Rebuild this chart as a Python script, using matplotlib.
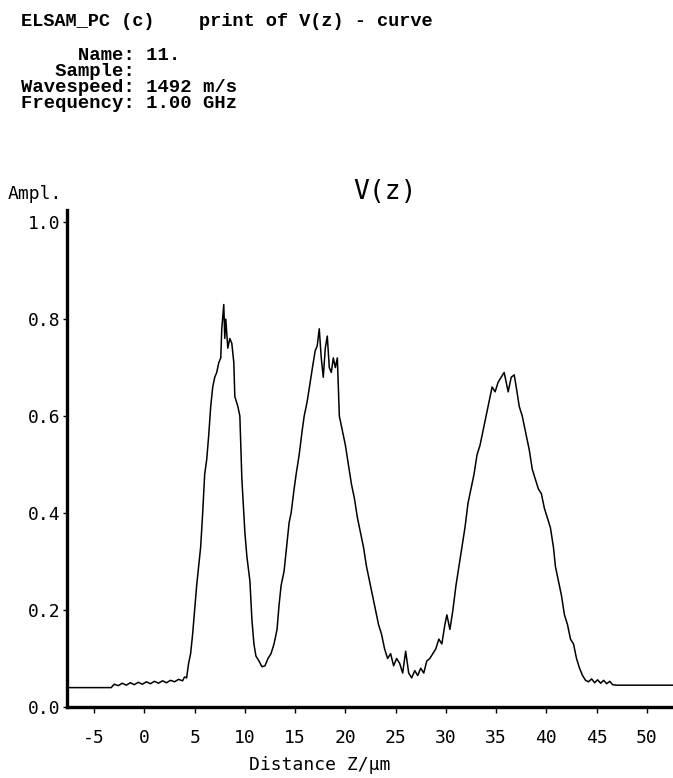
import matplotlib
matplotlib.use("Agg")
import matplotlib.pyplot as plt

# ------------------------------
# Values
# ------------------------------
z_um = [-7.7, -3.3, -3.0, -2.6, -2.2, -1.8, -1.4, -1.0, -0.6, -0.2, 0.2, 0.6,
        1.0, 1.4, 1.8, 2.2, 2.6, 3.0, 3.4, 3.8, 4.0, 4.2, 4.4, 4.6, 4.8, 5.0,
        5.2, 5.4, 5.6, 5.8, 6.0, 6.2, 6.4, 6.6, 6.8, 7.0, 7.2, 7.4, 7.6, 7.7,
        7.9, 8.0, 8.1, 8.3, 8.5, 8.7, 8.9, 9.0, 9.3, 9.5, 9.7, 10.0, 10.2,
        10.5, 10.7, 10.9, 11.1, 11.4, 11.7, 12.0, 12.3, 12.6, 12.9, 13.2,
        13.4, 13.6, 13.9, 14.2, 14.4, 14.6, 14.9, 15.1, 15.4, 15.7, 15.9,
        16.2, 16.5, 16.8, 17.0, 17.2, 17.4, 17.6, 17.8, 18.0, 18.2, 18.4,
        18.6, 18.8, 19.0, 19.2, 19.4, 19.7, 20.0, 20.3, 20.6, 20.9, 21.2,
        21.5, 21.8, 22.1, 22.4, 22.7, 23.0, 23.3, 23.6, 23.9, 24.2, 24.5,
        24.8, 25.1, 25.4, 25.7, 26.0, 26.3, 26.6, 26.9, 27.2, 27.5, 27.8,
        28.1, 28.4, 28.7, 29.0, 29.3, 29.6, 29.9, 30.1, 30.4, 30.7, 31.0,
        31.3, 31.6, 31.9, 32.2, 32.5, 32.8, 33.1, 33.4, 33.7, 34.0, 34.3,
        34.6, 34.9, 35.2, 35.5, 35.8, 36.0, 36.2, 36.5, 36.8, 37.0, 37.3,
        37.6, 37.9, 38.1, 38.3, 38.6, 38.9, 39.2, 39.5, 39.8, 40.1, 40.4,
        40.7, 40.9, 41.2, 41.5, 41.8, 42.1, 42.4, 42.7, 43.0, 43.3, 43.6,
        43.9, 44.2, 44.5, 44.8, 45.1, 45.4, 45.7, 46.0, 46.3, 46.6, 47.0, 53.0]

ampl = [0.040, 0.040, 0.047, 0.044, 0.049, 0.045, 0.050, 0.046, 0.051, 0.047,
        0.052, 0.048, 0.053, 0.049, 0.054, 0.050, 0.055, 0.052, 0.057, 0.054,
        0.062, 0.060, 0.090, 0.110, 0.150, 0.200, 0.250, 0.290, 0.330, 0.400,
        0.480, 0.510, 0.560, 0.620, 0.660, 0.680, 0.690, 0.710, 0.720, 0.780,
        0.830, 0.760, 0.800, 0.740, 0.760, 0.750, 0.710, 0.640, 0.620, 0.600,
        0.470, 0.360, 0.310, 0.260, 0.180, 0.130, 0.105, 0.095, 0.083, 0.085,
        0.100, 0.110, 0.130, 0.160, 0.210, 0.250, 0.280, 0.340, 0.380, 0.400,
        0.450, 0.480, 0.520, 0.570, 0.600, 0.630, 0.670, 0.710, 0.735, 0.745,
        0.780, 0.720, 0.680, 0.740, 0.765, 0.700, 0.690, 0.720, 0.700, 0.720,
        0.600, 0.570, 0.540, 0.500, 0.460, 0.430, 0.390, 0.360, 0.330, 0.290,
        0.260, 0.230, 0.200, 0.170, 0.150, 0.120, 0.100, 0.110, 0.085, 0.100,
        0.090, 0.070, 0.115, 0.070, 0.060, 0.075, 0.065, 0.080, 0.070, 0.095,
        0.100, 0.110, 0.120, 0.140, 0.130, 0.170, 0.190, 0.160, 0.200, 0.250,
        0.290, 0.330, 0.370, 0.420, 0.450, 0.480, 0.520, 0.540, 0.570, 0.600,
        0.630, 0.660, 0.650, 0.670, 0.680, 0.690, 0.670, 0.650, 0.680, 0.685,
        0.660, 0.620, 0.600, 0.570, 0.550, 0.530, 0.490, 0.470, 0.450, 0.440,
        0.410, 0.390, 0.370, 0.330, 0.290, 0.260, 0.230, 0.190, 0.170, 0.140,
        0.130, 0.100, 0.080, 0.065, 0.055, 0.052, 0.058, 0.050, 0.056, 0.049,
        0.055, 0.048, 0.053, 0.046, 0.045, 0.045]

x_ticks = [-5, 0, 5, 10, 15, 20, 25, 30, 35, 40, 45, 50]
y_ticks = [0.0, 0.2, 0.4, 0.6, 0.8, 1.0]

header = "ELSAM_PC (c)    print of V(z) - curve"
info_lines = ["     Name: 11.",
              "   Sample:",
              "Wavespeed: 1492 m/s",
              "Frequency: 1.00 GHz"]

# ------------------------------
# Figure
# ------------------------------
W, H = 673, 778
fig = plt.figure(figsize=(W / 100, H / 100), dpi=100)

mono = "Liberation Mono"
pix = "DejaVu Sans Mono"

fig.text(21 / W, 1 - 21 / H, header, family=mono, weight="bold",
         fontsize=13.4, va="center", ha="left")
for i, line in enumerate(info_lines):
    fig.text(21 / W, 1 - (55 + i * 16) / H, line, family=mono,
             weight="bold", fontsize=13.6, va="center", ha="left")

ax = fig.add_axes([67 / W, 71 / H, (W - 67) / W, 497 / H])
ax.plot(z_um, ampl, color="black", linewidth=1.1)

ax.set_xlim(-7.7, 52.6)
ax.set_ylim(0, 1.025)

for s in ["top", "right"]:
    ax.spines[s].set_visible(False)
for s in ["left", "bottom"]:
    ax.spines[s].set_linewidth(2.4)

ax.set_xticks(x_ticks)
ax.set_xticklabels([str(t) for t in x_ticks], family=pix, fontsize=13)
ax.set_yticks(y_ticks)
ax.set_yticklabels(["%.1f" % t for t in y_ticks], family=pix, fontsize=13)
ax.tick_params(axis="x", direction="out", length=4, width=1, pad=12)
ax.tick_params(axis="y", direction="out", length=3, width=1, pad=2)

fig.text(8 / W, 1 - 194 / H, "Ampl.", family=pix, fontsize=13,
         va="center", ha="left")
fig.text(385 / W, 1 - 192 / H, "V(z)", family=pix, fontsize=19,
         va="center", ha="center")
fig.text(320 / W, 1 - 765 / H, "Distance Z/µm", family=pix, fontsize=13,
         va="center", ha="center")

fig.savefig("out.png", dpi=100, facecolor="white")
